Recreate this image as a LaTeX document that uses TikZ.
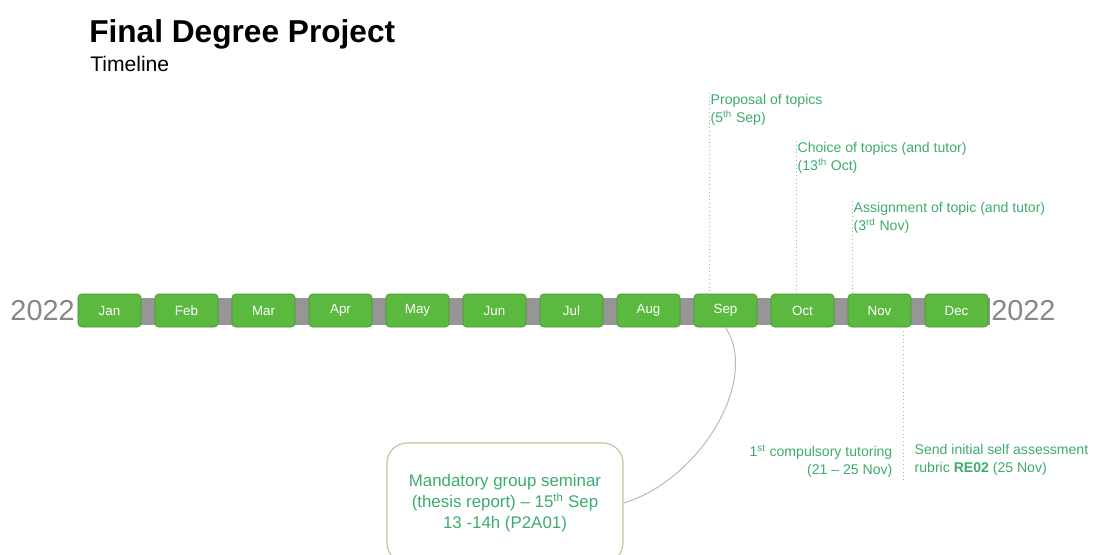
\documentclass[tikz,border=0pt]{standalone}
\usepackage{fontspec}
\setmainfont{Liberation Sans}
\usetikzlibrary{positioning}
\definecolor{monthGreen}{RGB}{90,185,62}
\definecolor{barGray}{RGB}{150,150,150}
\definecolor{noteGreen}{RGB}{60,172,108}
\definecolor{lineGray}{RGB}{160,185,160}
\definecolor{boxOlive}{RGB}{178,202,150}
\definecolor{yearGray}{RGB}{135,135,135}

\begin{document}
\begin{tikzpicture}[x=0.025cm, y=-0.025cm,
    month/.style={fill=monthGreen, draw=monthGreen!80!black, line width=0.4pt,
        rounded corners=2.5pt, minimum width=1.575cm, minimum height=0.825cm,
        text=white, font=\fontsize{9.5}{11}\selectfont},
    year/.style={text=yearGray, inner sep=0pt, font=\fontsize{20.5}{24}\selectfont},
    note/.style={text=noteGreen, inner sep=1pt, font=\fontsize{10}{12.8}\selectfont},
    guide/.style={dotted, lineGray, line width=0.7pt}]
    \clip (0,0) rectangle (1095,554);

    % Heading
    \node[anchor=base west, inner sep=0pt, font=\fontsize{22.5}{26}\selectfont\bfseries] (title) at (89,42) {Final Degree Project};
    \node[anchor=base west, inner sep=0pt, font=\fontsize{15}{18}\selectfont] (sub) at (90,71) {Timeline};

    % Bar and months
    \fill[barGray] (78,298) rectangle (990,325);
    \foreach \m [count=\i from 0] in {Jan,Feb,Mar,Apr,May,Jun,Jul,Aug,Sep,Oct,Nov,Dec}
        \node[month] (\m) at (109.5+77*\i,310.5) {\m};
    \node[year, left=2pt of Jan] (yearL) {2022};
    \node[year, right=2pt of Dec] (yearR) {2022};

    % Milestones above
    \node[note, anchor=north west, align=left] (prop) at (709,93) {Proposal of topics\\(5\textsuperscript{th} Sep)};
    \node[note, anchor=north west, align=left] (choice) at (796,141) {Choice of topics (and tutor)\\(13\textsuperscript{th} Oct)};
    \node[note, anchor=north west, align=left] (assign) at (852,201) {Assignment of topic (and tutor)\\(3\textsuperscript{rd} Nov)};
    \draw[guide] (prop.north west) -- (prop.north west |- Sep.north);
    \draw[guide] (choice.north west) -- (choice.north west |- Oct.north);
    \draw[guide] (assign.north west) -- (assign.north west |- Nov.north);

    % Milestones below
    \coordinate (novEnd) at (903,480);
    \draw[guide] (Nov.south -| novEnd) -- (novEnd);
    \node[note, anchor=north east, align=right] (tutoring) at (894,443) {1\textsuperscript{st} compulsory tutoring\\(21 -- 25 Nov)};
    \node[note, anchor=north west, align=left] (rubric) at (913,443) {Send initial self assessment\\rubric \textbf{RE02} (25 Nov)};

    % Seminar
    \node[draw=boxOlive, line width=0.8pt, rounded corners=0.5cm, minimum width=5.9cm, minimum height=3cm,
        text=noteGreen, align=center, font=\fontsize{12}{14.8}\selectfont] (seminar) at (505,503)
        {Mandatory group seminar\\(thesis report) -- 15\textsuperscript{th} Sep\\13 -14h (P2A01)};
    \draw[gray!55, line width=0.7pt] (Sep.south) .. controls (760,380) and (700,480) .. (seminar.east);
\end{tikzpicture}
\end{document}
